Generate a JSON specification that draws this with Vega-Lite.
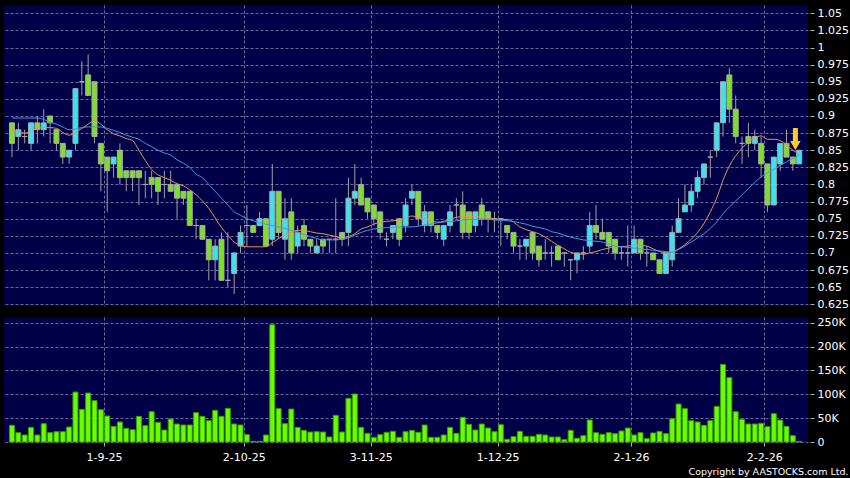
{
"$schema": "https://vega.github.io/schema/vega-lite/v6.json",
"background": "#000000",
"padding": {"left": 4, "top": 5, "right": 2, "bottom": 2},
"autosize": {"type": "pad"},
"title": {"text": "Copyright by AASTOCKS.com Ltd.", "orient": "bottom", "anchor": "end", "font": "DejaVu Sans", "fontSize": 9.5, "fontWeight": "normal", "color": "#ffffff", "offset": 5},
"datasets": {
"k": [
{"i":0,"o":0.89,"h":0.89,"l":0.84,"c":0.86,"v":35000,"m10":0.879,"m20":0.897},
{"i":1,"o":0.87,"h":0.89,"l":0.85,"c":0.88,"v":19500,"m10":0.877,"m20":0.897},
{"i":2,"o":0.87,"h":0.88,"l":0.86,"c":0.87,"v":14700,"m10":0.875,"m20":0.897},
{"i":3,"o":0.86,"h":0.89,"l":0.85,"c":0.89,"v":30700,"m10":0.878,"m20":0.897},
{"i":4,"o":0.89,"h":0.90,"l":0.86,"c":0.88,"v":14700,"m10":0.882,"m20":0.897},
{"i":5,"o":0.88,"h":0.91,"l":0.87,"c":0.89,"v":38400,"m10":0.883,"m20":0.895},
{"i":6,"o":0.90,"h":0.90,"l":0.86,"c":0.89,"v":19500,"m10":0.883,"m20":0.891},
{"i":7,"o":0.88,"h":0.88,"l":0.85,"c":0.86,"v":21600,"m10":0.882,"m20":0.888},
{"i":8,"o":0.86,"h":0.86,"l":0.83,"c":0.84,"v":21600,"m10":0.876,"m20":0.884},
{"i":9,"o":0.84,"h":0.85,"l":0.83,"c":0.85,"v":31400,"m10":0.872,"m20":0.880},
{"i":10,"o":0.86,"h":0.94,"l":0.85,"c":0.94,"v":104700,"m10":0.876,"m20":0.881},
{"i":11,"o":0.95,"h":0.98,"l":0.93,"c":0.95,"v":68400,"m10":0.882,"m20":0.883},
{"i":12,"o":0.96,"h":0.99,"l":0.93,"c":0.93,"v":102600,"m10":0.888,"m20":0.884},
{"i":13,"o":0.95,"h":0.95,"l":0.86,"c":0.87,"v":86600,"m10":0.893,"m20":0.884},
{"i":14,"o":0.86,"h":0.86,"l":0.79,"c":0.83,"v":67700,"m10":0.888,"m20":0.884},
{"i":15,"o":0.84,"h":0.84,"l":0.76,"c":0.82,"v":54500,"m10":0.880,"m20":0.882},
{"i":16,"o":0.83,"h":0.84,"l":0.81,"c":0.84,"v":32800,"m10":0.874,"m20":0.879},
{"i":17,"o":0.85,"h":0.86,"l":0.80,"c":0.81,"v":41900,"m10":0.871,"m20":0.876},
{"i":18,"o":0.82,"h":0.82,"l":0.79,"c":0.81,"v":28600,"m10":0.867,"m20":0.872},
{"i":19,"o":0.82,"h":0.82,"l":0.79,"c":0.81,"v":25800,"m10":0.864,"m20":0.869},
{"i":20,"o":0.82,"h":0.82,"l":0.77,"c":0.81,"v":53800,"m10":0.850,"m20":0.866},
{"i":21,"o":0.80,"h":0.82,"l":0.78,"c":0.80,"v":34200,"m10":0.835,"m20":0.860},
{"i":22,"o":0.81,"h":0.82,"l":0.78,"c":0.80,"v":63500,"m10":0.822,"m20":0.855},
{"i":23,"o":0.81,"h":0.81,"l":0.77,"c":0.79,"v":41200,"m10":0.814,"m20":0.850},
{"i":24,"o":0.80,"h":0.82,"l":0.78,"c":0.80,"v":25100,"m10":0.810,"m20":0.846},
{"i":25,"o":0.80,"h":0.82,"l":0.79,"c":0.79,"v":48200,"m10":0.806,"m20":0.843},
{"i":26,"o":0.80,"h":0.80,"l":0.75,"c":0.78,"v":37700,"m10":0.801,"m20":0.836},
{"i":27,"o":0.79,"h":0.79,"l":0.77,"c":0.78,"v":35600,"m10":0.798,"m20":0.831},
{"i":28,"o":0.79,"h":0.79,"l":0.74,"c":0.74,"v":35600,"m10":0.792,"m20":0.825},
{"i":29,"o":0.74,"h":0.75,"l":0.72,"c":0.74,"v":61500,"m10":0.785,"m20":0.815},
{"i":30,"o":0.74,"h":0.74,"l":0.72,"c":0.72,"v":53800,"m10":0.776,"m20":0.810},
{"i":31,"o":0.72,"h":0.72,"l":0.66,"c":0.69,"v":44700,"m10":0.765,"m20":0.800},
{"i":32,"o":0.69,"h":0.72,"l":0.66,"c":0.71,"v":66300,"m10":0.751,"m20":0.790},
{"i":33,"o":0.72,"h":0.73,"l":0.66,"c":0.66,"v":53800,"m10":0.737,"m20":0.780},
{"i":34,"o":0.66,"h":0.73,"l":0.65,"c":0.66,"v":70500,"m10":0.726,"m20":0.770},
{"i":35,"o":0.67,"h":0.70,"l":0.64,"c":0.70,"v":37700,"m10":0.716,"m20":0.760},
{"i":36,"o":0.71,"h":0.74,"l":0.70,"c":0.73,"v":35600,"m10":0.711,"m20":0.755},
{"i":37,"o":0.74,"h":0.77,"l":0.71,"c":0.74,"v":15400,"m10":0.709,"m20":0.750},
{"i":38,"o":0.74,"h":0.74,"l":0.73,"c":0.73,"v":1400,"m10":0.709,"m20":0.747},
{"i":39,"o":0.74,"h":0.76,"l":0.74,"c":0.75,"v":1400,"m10":0.709,"m20":0.744},
{"i":40,"o":0.75,"h":0.75,"l":0.71,"c":0.71,"v":14700,"m10":0.709,"m20":0.742},
{"i":41,"o":0.72,"h":0.83,"l":0.71,"c":0.79,"v":245800,"m10":0.715,"m20":0.740},
{"i":42,"o":0.79,"h":0.79,"l":0.72,"c":0.73,"v":69800,"m10":0.721,"m20":0.738},
{"i":43,"o":0.72,"h":0.78,"l":0.69,"c":0.75,"v":38400,"m10":0.726,"m20":0.736},
{"i":44,"o":0.76,"h":0.78,"l":0.69,"c":0.70,"v":69100,"m10":0.730,"m20":0.733},
{"i":45,"o":0.71,"h":0.74,"l":0.70,"c":0.73,"v":30700,"m10":0.733,"m20":0.730},
{"i":46,"o":0.74,"h":0.75,"l":0.71,"c":0.72,"v":24400,"m10":0.733,"m20":0.727},
{"i":47,"o":0.72,"h":0.72,"l":0.70,"c":0.71,"v":20900,"m10":0.731,"m20":0.724},
{"i":48,"o":0.70,"h":0.72,"l":0.70,"c":0.71,"v":21600,"m10":0.729,"m20":0.721},
{"i":49,"o":0.72,"h":0.72,"l":0.70,"c":0.71,"v":20900,"m10":0.728,"m20":0.719},
{"i":50,"o":0.72,"h":0.72,"l":0.70,"c":0.72,"v":10500,"m10":0.726,"m20":0.719},
{"i":51,"o":0.72,"h":0.78,"l":0.70,"c":0.72,"v":55900,"m10":0.724,"m20":0.719},
{"i":52,"o":0.73,"h":0.73,"l":0.71,"c":0.72,"v":20900,"m10":0.721,"m20":0.720},
{"i":53,"o":0.73,"h":0.81,"l":0.71,"c":0.78,"v":91500,"m10":0.724,"m20":0.722},
{"i":54,"o":0.78,"h":0.83,"l":0.77,"c":0.79,"v":100600,"m10":0.728,"m20":0.726},
{"i":55,"o":0.80,"h":0.81,"l":0.77,"c":0.77,"v":30700,"m10":0.735,"m20":0.730},
{"i":56,"o":0.78,"h":0.78,"l":0.75,"c":0.76,"v":18200,"m10":0.738,"m20":0.733},
{"i":57,"o":0.77,"h":0.77,"l":0.74,"c":0.75,"v":9800,"m10":0.742,"m20":0.735},
{"i":58,"o":0.76,"h":0.76,"l":0.72,"c":0.73,"v":15400,"m10":0.745,"m20":0.736},
{"i":59,"o":0.72,"h":0.73,"l":0.71,"c":0.72,"v":20300,"m10":0.746,"m20":0.737},
{"i":60,"o":0.73,"h":0.74,"l":0.72,"c":0.74,"v":22300,"m10":0.747,"m20":0.737},
{"i":61,"o":0.75,"h":0.75,"l":0.71,"c":0.72,"v":9800,"m10":0.748,"m20":0.738},
{"i":62,"o":0.74,"h":0.78,"l":0.73,"c":0.77,"v":21600,"m10":0.750,"m20":0.738},
{"i":63,"o":0.78,"h":0.80,"l":0.77,"c":0.79,"v":24400,"m10":0.754,"m20":0.738},
{"i":64,"o":0.79,"h":0.79,"l":0.74,"c":0.75,"v":20300,"m10":0.752,"m20":0.739},
{"i":65,"o":0.74,"h":0.77,"l":0.73,"c":0.76,"v":35600,"m10":0.750,"m20":0.741},
{"i":66,"o":0.76,"h":0.76,"l":0.73,"c":0.74,"v":9800,"m10":0.748,"m20":0.742},
{"i":67,"o":0.74,"h":0.74,"l":0.72,"c":0.73,"v":9800,"m10":0.745,"m20":0.744},
{"i":68,"o":0.72,"h":0.74,"l":0.71,"c":0.74,"v":14700,"m10":0.746,"m20":0.745},
{"i":69,"o":0.74,"h":0.77,"l":0.73,"c":0.76,"v":30700,"m10":0.749,"m20":0.746},
{"i":70,"o":0.77,"h":0.78,"l":0.75,"c":0.77,"v":18200,"m10":0.752,"m20":0.747},
{"i":71,"o":0.77,"h":0.79,"l":0.72,"c":0.73,"v":51700,"m10":0.753,"m20":0.748},
{"i":72,"o":0.76,"h":0.76,"l":0.72,"c":0.73,"v":37000,"m10":0.753,"m20":0.749},
{"i":73,"o":0.74,"h":0.76,"l":0.73,"c":0.76,"v":25100,"m10":0.753,"m20":0.749},
{"i":74,"o":0.77,"h":0.78,"l":0.74,"c":0.75,"v":37700,"m10":0.752,"m20":0.749},
{"i":75,"o":0.76,"h":0.76,"l":0.73,"c":0.75,"v":29300,"m10":0.751,"m20":0.749},
{"i":76,"o":0.75,"h":0.76,"l":0.73,"c":0.75,"v":21600,"m10":0.750,"m20":0.748},
{"i":77,"o":0.75,"h":0.75,"l":0.71,"c":0.75,"v":36300,"m10":0.749,"m20":0.748},
{"i":78,"o":0.74,"h":0.74,"l":0.72,"c":0.73,"v":5600,"m10":0.749,"m20":0.747},
{"i":79,"o":0.73,"h":0.73,"l":0.70,"c":0.71,"v":11200,"m10":0.745,"m20":0.746},
{"i":80,"o":0.71,"h":0.72,"l":0.69,"c":0.71,"v":22300,"m10":0.738,"m20":0.744},
{"i":81,"o":0.71,"h":0.72,"l":0.69,"c":0.72,"v":11900,"m10":0.734,"m20":0.742},
{"i":82,"o":0.73,"h":0.73,"l":0.69,"c":0.70,"v":11900,"m10":0.731,"m20":0.739},
{"i":83,"o":0.71,"h":0.71,"l":0.68,"c":0.69,"v":16100,"m10":0.728,"m20":0.737},
{"i":84,"o":0.70,"h":0.72,"l":0.69,"c":0.70,"v":14700,"m10":0.723,"m20":0.735},
{"i":85,"o":0.70,"h":0.71,"l":0.68,"c":0.70,"v":10500,"m10":0.717,"m20":0.731},
{"i":86,"o":0.71,"h":0.71,"l":0.69,"c":0.69,"v":10500,"m10":0.711,"m20":0.729},
{"i":87,"o":0.70,"h":0.70,"l":0.68,"c":0.70,"v":4900,"m10":0.706,"m20":0.726},
{"i":88,"o":0.69,"h":0.69,"l":0.66,"c":0.69,"v":24400,"m10":0.701,"m20":0.723},
{"i":89,"o":0.69,"h":0.70,"l":0.67,"c":0.70,"v":7700,"m10":0.699,"m20":0.721},
{"i":90,"o":0.70,"h":0.71,"l":0.69,"c":0.70,"v":13300,"m10":0.698,"m20":0.719},
{"i":91,"o":0.71,"h":0.76,"l":0.70,"c":0.74,"v":46100,"m10":0.700,"m20":0.718},
{"i":92,"o":0.74,"h":0.77,"l":0.72,"c":0.73,"v":19500,"m10":0.702,"m20":0.717},
{"i":93,"o":0.73,"h":0.75,"l":0.72,"c":0.72,"v":16100,"m10":0.705,"m20":0.716},
{"i":94,"o":0.73,"h":0.73,"l":0.70,"c":0.71,"v":19500,"m10":0.707,"m20":0.713},
{"i":95,"o":0.72,"h":0.72,"l":0.69,"c":0.70,"v":17500,"m10":0.709,"m20":0.710},
{"i":96,"o":0.70,"h":0.71,"l":0.69,"c":0.70,"v":23000,"m10":0.709,"m20":0.709},
{"i":97,"o":0.70,"h":0.74,"l":0.68,"c":0.70,"v":29300,"m10":0.710,"m20":0.708},
{"i":98,"o":0.70,"h":0.74,"l":0.70,"c":0.72,"v":14700,"m10":0.711,"m20":0.707},
{"i":99,"o":0.72,"h":0.72,"l":0.69,"c":0.70,"v":19500,"m10":0.711,"m20":0.706},
{"i":100,"o":0.70,"h":0.71,"l":0.68,"c":0.70,"v":7000,"m10":0.710,"m20":0.705},
{"i":101,"o":0.70,"h":0.70,"l":0.69,"c":0.69,"v":18900,"m10":0.706,"m20":0.704},
{"i":102,"o":0.69,"h":0.69,"l":0.67,"c":0.67,"v":22300,"m10":0.702,"m20":0.703},
{"i":103,"o":0.67,"h":0.70,"l":0.67,"c":0.70,"v":17500,"m10":0.700,"m20":0.702},
{"i":104,"o":0.69,"h":0.74,"l":0.68,"c":0.73,"v":48900,"m10":0.701,"m20":0.701},
{"i":105,"o":0.73,"h":0.78,"l":0.73,"c":0.75,"v":79600,"m10":0.706,"m20":0.705},
{"i":106,"o":0.76,"h":0.80,"l":0.76,"c":0.77,"v":69800,"m10":0.712,"m20":0.710},
{"i":107,"o":0.77,"h":0.80,"l":0.76,"c":0.79,"v":44700,"m10":0.720,"m20":0.716},
{"i":108,"o":0.79,"h":0.82,"l":0.78,"c":0.81,"v":41900,"m10":0.730,"m20":0.722},
{"i":109,"o":0.81,"h":0.83,"l":0.80,"c":0.83,"v":34900,"m10":0.743,"m20":0.728},
{"i":110,"o":0.84,"h":0.85,"l":0.81,"c":0.84,"v":44700,"m10":0.760,"m20":0.736},
{"i":111,"o":0.85,"h":0.89,"l":0.84,"c":0.89,"v":74700,"m10":0.780,"m20":0.745},
{"i":112,"o":0.89,"h":0.95,"l":0.87,"c":0.95,"v":162700,"m10":0.806,"m20":0.757},
{"i":113,"o":0.96,"h":0.97,"l":0.89,"c":0.91,"v":134800,"m10":0.827,"m20":0.767},
{"i":114,"o":0.91,"h":0.93,"l":0.86,"c":0.87,"v":63500,"m10":0.842,"m20":0.776},
{"i":115,"o":0.86,"h":0.87,"l":0.83,"c":0.86,"v":47500,"m10":0.853,"m20":0.785},
{"i":116,"o":0.87,"h":0.89,"l":0.84,"c":0.86,"v":37700,"m10":0.862,"m20":0.794},
{"i":117,"o":0.86,"h":0.88,"l":0.85,"c":0.87,"v":37700,"m10":0.868,"m20":0.803},
{"i":118,"o":0.86,"h":0.87,"l":0.81,"c":0.83,"v":39100,"m10":0.871,"m20":0.811},
{"i":119,"o":0.83,"h":0.83,"l":0.76,"c":0.77,"v":32100,"m10":0.866,"m20":0.817},
{"i":120,"o":0.77,"h":0.84,"l":0.77,"c":0.84,"v":59400,"m10":0.866,"m20":0.822},
{"i":121,"o":0.83,"h":0.86,"l":0.82,"c":0.86,"v":46100,"m10":0.864,"m20":0.828},
{"i":122,"o":0.86,"h":0.88,"l":0.84,"c":0.84,"v":32800,"m10":0.858,"m20":0.833},
{"i":123,"o":0.84,"h":0.84,"l":0.82,"c":0.83,"v":13300,"m10":0.850,"m20":0.838},
{"i":124,"o":0.83,"h":0.85,"l":0.83,"c":0.85,"v":1400,"m10":0.845,"m20":0.843}
],
"arrow": [{"i": 123.4, "top": 0.8825, "tail": 0.8625, "tip": 0.857}]
},
"config": {
  "view": {"fill": "#000048", "stroke": null},
  "axis": {"labelColor": "#ffffff", "labelFont": "DejaVu Sans", "labelFontSize": 11, "gridColor": "#6a6a9a", "gridDash": [3, 2], "gridWidth": 1, "domain": false, "tickColor": "#b0b0b0", "title": null, "labelOverlap": false, "tickCount": 30, "labelLimit": 400}
},
"spacing": 6,
"vconcat": [
{
  "width": 804, "height": 301,
  "data": {"name": "k"},
  "encoding": {
    "x": {"field": "i", "type": "quantitative", "scale": {"domain": [-0.47, 124.6], "nice": false, "zero": false},
          "axis": {"values": [14.5, 36.5, 56.5, 76.5, 97.5, 118.5], "labels": false, "ticks": false, "grid": true, "domain": false}}
  },
  "layer": [
    {"mark": {"type": "rule", "color": "#a0a0a0", "strokeWidth": 1},
     "encoding": {
       "y": {"field": "l", "type": "quantitative", "scale": {"domain": [0.6225, 1.0621], "nice": false, "zero": false},
             "axis": {"orient": "right", "values": [0.625,0.65,0.675,0.7,0.725,0.75,0.775,0.8,0.825,0.85,0.875,0.9,0.925,0.95,0.975,1,1.025,1.05], "tickCount": 30,
                      "labelExpr": "replace(replace(format(datum.value, '.3f'), /0+$/, ''), /\\.$/, '')",
                      "tickSize": 4, "offset": 2, "labelPadding": 3, "grid": true}},
       "y2": {"field": "h"}}},
    {"mark": {"type": "bar", "size": 5, "stroke": "#a8a8a8", "strokeWidth": 1},
     "encoding": {
       "y": {"field": "o", "type": "quantitative"},
       "y2": {"field": "c"},
       "fill": {"condition": {"test": "datum.c > datum.o", "value": "#35E6F2"}, "value": "#7CE024"}}},
    {"mark": {"type": "line", "color": "#E8925A", "strokeWidth": 1, "interpolate": "monotone"},
     "encoding": {"y": {"field": "m10", "type": "quantitative"}}},
    {"mark": {"type": "line", "color": "#3C9CE6", "strokeWidth": 1, "interpolate": "monotone"},
     "encoding": {"y": {"field": "m20", "type": "quantitative"}}},
    {"data": {"name": "arrow"},
     "mark": {"type": "rule", "color": "#FFCC22", "strokeWidth": 5},
     "encoding": {"x": {"field": "i", "type": "quantitative"}, "y": {"field": "top", "type": "quantitative"}, "y2": {"field": "tail"}}},
    {"data": {"name": "arrow"},
     "mark": {"type": "point", "shape": "triangle-down", "filled": true, "color": "#FFCC22", "size": 110, "opacity": 1},
     "encoding": {"x": {"field": "i", "type": "quantitative"}, "y": {"field": "tip", "type": "quantitative"}}}
  ]
},
{
  "width": 804, "height": 125,
  "data": {"name": "k"},
  "mark": {"type": "bar", "size": 5, "fill": "#66FF00", "stroke": "#3E9A00", "strokeWidth": 1},
  "encoding": {
    "x": {"field": "i", "type": "quantitative", "scale": {"domain": [-0.47, 124.6], "nice": false, "zero": false},
          "axis": {"values": [14.5, 36.5, 56.5, 76.5, 97.5, 118.5], "grid": true, "tickSize": 4, "labelPadding": 5, "domain": false,
                   "labelExpr": "datum.value == 14.5 ? '1-9-25' : datum.value == 36.5 ? '2-10-25' : datum.value == 56.5 ? '3-11-25' : datum.value == 76.5 ? '1-12-25' : datum.value == 97.5 ? '2-1-26' : '2-2-26'"}},
    "y": {"field": "v", "type": "quantitative", "scale": {"domain": [0, 262000], "nice": false},
          "axis": {"orient": "right", "values": [0, 50000, 100000, 150000, 200000, 250000], "tickSize": 4, "offset": 2, "labelPadding": 3, "grid": true,
                   "labelExpr": "datum.value == 0 ? '0' : (datum.value / 1000) + 'K'"}}
  }
}
]
}
